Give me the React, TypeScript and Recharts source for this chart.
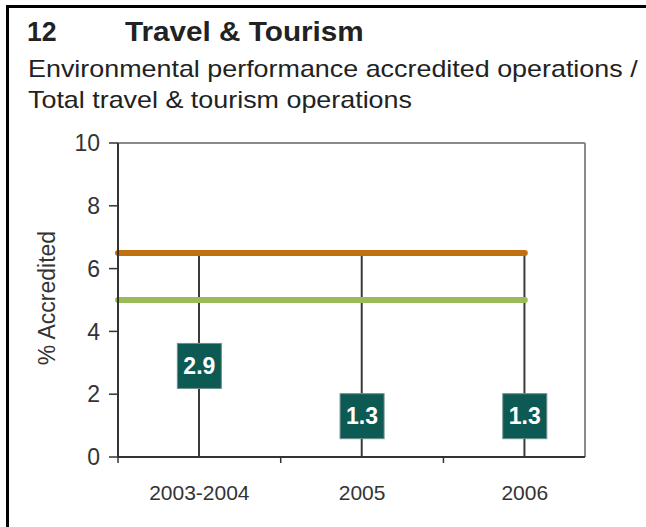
import React from "react";
import {
  ComposedChart,
  Bar,
  Line,
  XAxis,
  YAxis,
  ReferenceLine,
} from "recharts";

const categories = ["2003-2004", "2005", "2006"];
const accredited = [2.9, 1.3, 1.3];
const upperTarget = [6.5, 6.5, 6.5];
const lowerTarget = [5, 5, 5];
const yTicks = [0, 2, 4, 6, 8, 10];

const FONT = "'Liberation Sans', Arial, Helvetica, sans-serif";
const X_MAX = 2.87;

const rows = categories.map((c, i) => ({
  x: i + 0.5,
  label: c,
  value: accredited[i],
  upper: upperTarget[i],
  lower: lowerTarget[i],
}));

const lastX = rows[rows.length - 1].x;

const ValueBox = (props: any) => {
  const { cx, cy, payload } = props;
  if (cx == null || cy == null) return null;
  return (
    <g>
      <rect x={cx - 22} y={cy - 22.5} width={44} height={45} fill="#0d5953" stroke="#6f8f8c" strokeWidth={1} />
      <text
        x={cx}
        y={cy + 8}
        textAnchor="middle"
        fill="#fff"
        fontSize={23}
        fontWeight="bold"
        fontFamily={FONT}
      >
        {payload.value.toFixed(1)}
      </text>
    </g>
  );
};

const YLabel = () => (
  <text
    x={55}
    y={298}
    transform="rotate(-90, 55, 298)"
    textAnchor="middle"
    fontSize={23}
    fill="#333"
    fontFamily={FONT}
  >
    % Accredited
  </text>
);

export default function App() {
  return (
    <div style={{ position: "absolute", left: 0, top: 0, width: 646, height: 527, background: "#fff", fontFamily: FONT }}>
      <div
        style={{
          position: "absolute",
          left: 6,
          top: 5,
          width: 640,
          height: 522,
          borderLeft: "3px solid #000",
          borderTop: "3px solid #000",
          boxSizing: "border-box",
        }}
      />
      <div
        style={{
          position: "absolute",
          left: 27,
          top: 18,
          fontSize: 28,
          lineHeight: "28px",
          fontWeight: "bold",
          color: "#222",
          transform: "scaleX(0.95)",
          transformOrigin: "left top",
        }}
      >
        12
      </div>
      <div
        style={{
          position: "absolute",
          left: 125,
          top: 19,
          fontSize: 27,
          lineHeight: "27px",
          fontWeight: "bold",
          color: "#222",
          whiteSpace: "nowrap",
          transform: "scaleX(1.1)",
          transformOrigin: "left top",
        }}
      >
        Travel &amp; Tourism
      </div>
      <div
        style={{
          position: "absolute",
          left: 28,
          top: 53,
          fontSize: 24,
          lineHeight: "31px",
          color: "#222",
          whiteSpace: "nowrap",
          transform: "scaleX(1.12)",
          transformOrigin: "left top",
        }}
      >
        Environmental performance accredited operations /
        <br />
        Total travel &amp; tourism operations
      </div>
      <div style={{ position: "absolute", left: 0, top: 0 }}>
        <ComposedChart
          width={646}
          height={527}
          data={rows}
          margin={{ top: 143, right: 61, left: 0, bottom: 30 }}
          style={{ fontFamily: FONT }}
        >
          <YAxis
            type="number"
            domain={[0, 10]}
            ticks={yTicks}
            width={118}
            tickSize={9}
            tickMargin={9}
            axisLine={{ stroke: "#333", strokeWidth: 2 }}
            tickLine={{ stroke: "#333", strokeWidth: 1.5 }}
            tick={{ fontSize: 23, fill: "#333" }}
            interval={0}
          />
          <XAxis
            xAxisId={0}
            type="number"
            dataKey="x"
            domain={[0, X_MAX]}
            ticks={[0, 1, 2]}
            height={6}
            tickSize={6}
            interval={0}
            axisLine={{ stroke: "#333", strokeWidth: 2 }}
            tickLine={{ stroke: "#333", strokeWidth: 1.5 }}
            tick={() => <g />}
          />
          <XAxis
            xAxisId="lab"
            type="number"
            dataKey="x"
            domain={[0, X_MAX]}
            ticks={rows.map((r) => r.x)}
            height={34}
            tickSize={0}
            tickMargin={22}
            interval={0}
            axisLine={false}
            tickLine={false}
            tick={{ fontSize: 21, fill: "#333" }}
            tickFormatter={(v: number) => categories[Math.floor(v)]}
          />
          <ReferenceLine y={10} stroke="#8a8a8a" strokeWidth={2} />
          <ReferenceLine x={X_MAX} stroke="#8a8a8a" strokeWidth={2} />
          <Bar dataKey="upper" barSize={2} fill="#3a3a3a" isAnimationActive={false} />
          <ReferenceLine
            segment={[{ x: 0, y: lowerTarget[0] }, { x: lastX, y: lowerTarget[lowerTarget.length - 1] }]}
            stroke="#9bbb59"
            strokeWidth={6}
            strokeLinecap="round"
          />
          <ReferenceLine
            segment={[{ x: 0, y: upperTarget[0] }, { x: lastX, y: upperTarget[upperTarget.length - 1] }]}
            stroke="#c0700e"
            strokeWidth={6}
            strokeLinecap="round"
          />
          <Line
            dataKey="value"
            stroke="none"
            dot={<ValueBox />}
            activeDot={false}
            isAnimationActive={false}
          />
          <YLabel />
        </ComposedChart>
      </div>
    </div>
  );
}
